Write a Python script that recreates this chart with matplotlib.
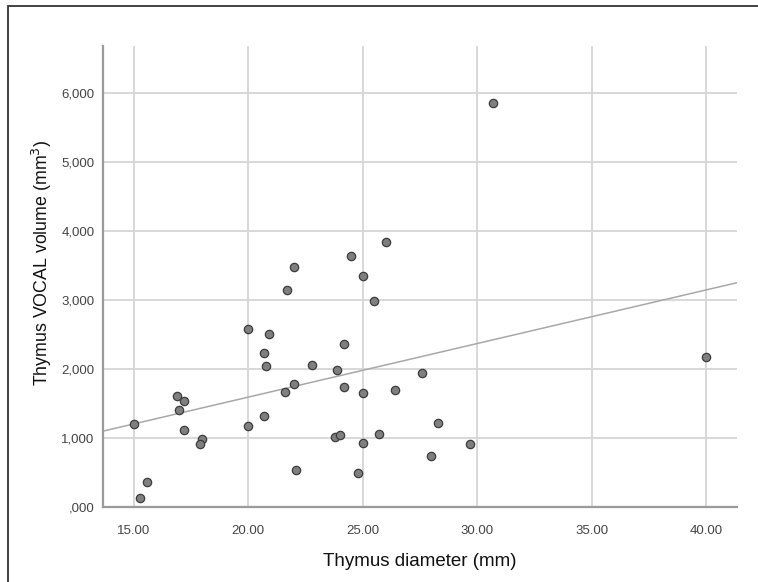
import matplotlib
matplotlib.use("Agg")
import matplotlib.pyplot as plt
import numpy as np
from matplotlib.patches import Rectangle

plt.rcParams['font.family'] = ['Liberation Sans', 'DejaVu Sans']

# thymus diameter (mm) and VOCAL volume
diameter = [15.0, 15.3, 15.6, 16.9, 17.2, 17.0, 17.2, 18.0, 17.9,
            20.0, 20.9, 20.7, 20.8, 20.0, 20.7, 22.0, 21.7, 22.8, 22.0,
            21.6, 22.1, 24.5, 25.0, 25.5, 26.0, 24.2, 23.9, 24.2, 25.0,
            26.4, 23.8, 24.0, 25.0, 25.7, 24.8, 27.6, 28.0, 28.3, 29.7,
            30.7, 40.0]
volume = [1.200, 0.130, 0.360, 1.610, 1.545, 1.410, 1.125, 0.985, 0.920,
          2.585, 2.505, 2.235, 2.045, 1.180, 1.325, 3.475, 3.140, 2.060, 1.790,
          1.670, 0.545, 3.630, 3.350, 2.990, 3.835, 2.360, 1.980, 1.740, 1.650,
          1.690, 1.010, 1.050, 0.930, 1.065, 0.500, 1.950, 0.735, 1.225, 0.920,
          5.850, 2.170]

x_ticks = [15, 20, 25, 30, 35, 40]
y_ticks = [0, 1, 2, 3, 4, 5, 6]

fig = plt.figure(figsize=(7.58, 5.82), dpi=100)
ax = fig.add_axes([0.1355, 0.1284, 0.8372, 0.7931])

ax.set_xlim(13.65, 41.36)
ax.set_ylim(0, 6.68)

ax.grid(True, color='#d6d6d6', lw=1.3, zorder=0)
ax.set_axisbelow(True)

# linear fit line
slope, icpt = np.polyfit(diameter, volume, 1)
xs = np.array(ax.get_xlim())
ax.plot(xs, icpt + slope * xs, color='#a8a8a8', lw=1.1, zorder=2)

ax.scatter(diameter, volume, s=36, facecolor='#7f7f7f', edgecolor='#3c3c3c',
           linewidths=0.9, zorder=3, clip_on=False)

ax.set_xticks(x_ticks)
ax.set_xticklabels(['%.2f' % v for v in x_ticks])
ax.set_yticks(y_ticks)
ax.set_yticklabels([('%.3f' % v).replace('.', ',').lstrip('0') if v == 0
                    else ('%.3f' % v).replace('.', ',') for v in y_ticks])

for s in ['top', 'right']:
    ax.spines[s].set_visible(False)
for s in ['left', 'bottom']:
    ax.spines[s].set_color('#9a9a9a')
    ax.spines[s].set_linewidth(1.6)

ax.tick_params(axis='both', length=0, labelsize=9.5, labelcolor='#444444', pad=6)
ax.tick_params(axis='x', pad=13)

ax.set_xlabel('Thymus diameter (mm)', fontsize=13.5, color='#111111', labelpad=11)
ax.set_ylabel('Thymus VOCAL volume (mm$^3$)', fontsize=12.8, color='#111111')
ax.yaxis.set_label_coords(-0.0765, 0.53)

# outer frame of the screenshot
fig.patches.append(Rectangle((7.5 / 758, -0.1), 1.2, 1 - 6 / 582 + 0.1,
                             transform=fig.transFigure, fill=False,
                             edgecolor='#333333', lw=1.3))

fig.savefig('out.png', dpi=100)
